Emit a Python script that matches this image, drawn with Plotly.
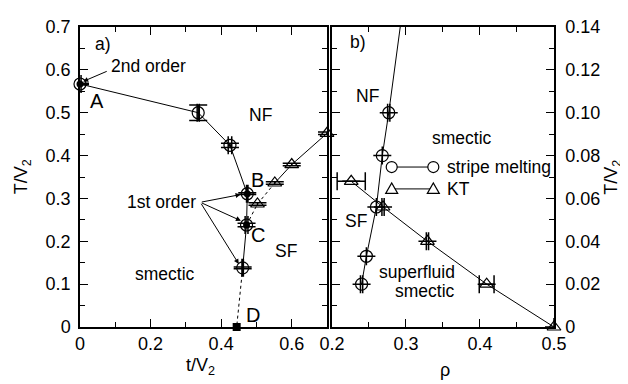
import plotly.graph_objects as go

# ---------------- data ----------------
# panel a) : circles, A..C + lower point
left_circ_x = [0.000, 0.335, 0.425, 0.474, 0.472, 0.461]
left_circ_y = [0.567, 0.500, 0.424, 0.311, 0.238, 0.138]
left_circ_ex = [0.003, 0.003, 0.005, 0.002, 0.004, 0.002]
left_circ_ey = [0.002, 0.018, 0.005, 0.002, 0.004, 0.002]
left_filled_idx = [0, 3, 4]          # A, B, C (filled centre)
point_D_x = [0.444]
point_D_y = [0.0]

# panel a) : triangles
left_tri_x = [0.503, 0.552, 0.600, 0.700]
left_tri_y = [0.287, 0.336, 0.379, 0.452]
left_tri_ey = [0.003, 0.003, 0.003, 0.003]

# panel b) : circles (stripe melting)
right_circ_x = [0.240, 0.2465, 0.260, 0.268, 0.2767, 0.300]
right_circ_y = [0.020, 0.033, 0.056, 0.080, 0.100, 0.160]
right_circ_ex = [0.0015, 0.0, 0.0, 0.0, 0.0015, 0.0]
right_circ_ey = [0.0, 0.0, 0.0, 0.0, 0.0, 0.0]

# panel b) : triangles (KT)
right_tri_x = [0.226, 0.269, 0.329, 0.409, 0.500]
right_tri_y = [0.068, 0.056, 0.040, 0.020, 0.000]
right_tri_ex = [0.019, 0.0015, 0.0015, 0.010, 0.0]
right_tri_ey = [0.0, 0.0, 0.0, 0.0, 0.0]

legend_names = ["stripe melting", "KT"]

# tick labels
left_x_ticks = [0, 0.2, 0.4, 0.6]
left_x_text = ["0", "0.2", "0.4", "0.6"]
left_y_ticks = [0, 0.1, 0.2, 0.3, 0.4, 0.5, 0.6, 0.7]
left_y_text = ["0", "0.1", "0.2", "0.3", "0.4", "0.5", "0.6", "0.7"]
right_x_ticks = [0.2, 0.3, 0.4, 0.5]
right_x_text = ["0.2", "0.3", "0.4", "0.5"]
right_y_ticks = [0, 0.02, 0.04, 0.06, 0.08, 0.10, 0.12, 0.14]
right_y_text = ["0", "0.02", "0.04", "0.06", "0.08", "0.10", "0.12", "0.14"]

FONT = "Liberation Sans, Arial, sans-serif"
BLACK = "black"
TXT = 17.5


def err(arr):
    return dict(type="data", array=arr, visible=True, width=9,
                thickness=1.5, color=BLACK)


fig = go.Figure()

# ---- panel a) ----
fig.add_trace(go.Scatter(
    x=left_circ_x, y=left_circ_y, mode="lines+markers",
    line=dict(color=BLACK, width=1),
    marker=dict(symbol="circle-open", size=12, color=BLACK, line=dict(width=1.2)),
    error_x=err(left_circ_ex), error_y=err(left_circ_ey),
    xaxis="x", yaxis="y", showlegend=False, cliponaxis=False))
fig.add_trace(go.Scatter(
    x=[left_circ_x[i] for i in left_filled_idx],
    y=[left_circ_y[i] for i in left_filled_idx],
    mode="markers", marker=dict(symbol="circle", size=7, color=BLACK),
    xaxis="x", yaxis="y", showlegend=False, cliponaxis=False))
fig.add_trace(go.Scatter(
    x=[left_circ_x[-1]] + point_D_x, y=[left_circ_y[-1]] + point_D_y,
    mode="lines", line=dict(color=BLACK, width=1, dash="dot"),
    xaxis="x", yaxis="y", showlegend=False))
fig.add_trace(go.Scatter(
    x=point_D_x, y=point_D_y, mode="markers",
    marker=dict(symbol="square", size=8, color=BLACK),
    xaxis="x", yaxis="y", showlegend=False, cliponaxis=False))
fig.add_trace(go.Scatter(
    x=[left_circ_x[4]] + left_tri_x[:2], y=[left_circ_y[4]] + left_tri_y[:2],
    mode="lines", line=dict(color=BLACK, width=1, dash="dot"),
    xaxis="x", yaxis="y", showlegend=False))
fig.add_trace(go.Scatter(
    x=left_tri_x[1:], y=left_tri_y[1:], mode="lines",
    line=dict(color=BLACK, width=1),
    xaxis="x", yaxis="y", showlegend=False))
fig.add_trace(go.Scatter(
    x=left_tri_x, y=left_tri_y, mode="markers",
    marker=dict(symbol="triangle-up-open", size=12, color=BLACK, line=dict(width=1.2)),
    error_y=err(left_tri_ey),
    xaxis="x", yaxis="y", showlegend=False, cliponaxis=False))

# ---- panel b) ----
fig.add_trace(go.Scatter(
    x=right_circ_x, y=right_circ_y, mode="lines+markers", name=legend_names[0],
    line=dict(color=BLACK, width=1),
    marker=dict(symbol="circle-open", size=12, color=BLACK, line=dict(width=1.2)),
    error_x=err(right_circ_ex), error_y=err(right_circ_ey),
    xaxis="x2", yaxis="y2", showlegend=False))
fig.add_trace(go.Scatter(
    x=right_tri_x, y=right_tri_y, mode="lines+markers", name=legend_names[1],
    line=dict(color=BLACK, width=1),
    marker=dict(symbol="triangle-up-open", size=12, color=BLACK, line=dict(width=1.2)),
    error_x=err(right_tri_ex), error_y=err(right_tri_ey),
    xaxis="x2", yaxis="y2", showlegend=False, cliponaxis=False))

axis_common = dict(
    showgrid=False, zeroline=False, showline=True, linecolor=BLACK, linewidth=1.5,
    mirror="ticks", ticks="inside", ticklen=8, tickwidth=1, tickcolor=BLACK,
    tickfont=dict(family=FONT, size=18, color=BLACK), tickmode="array",
)

fig.update_layout(
    width=628, height=384,
    margin=dict(l=72, r=82, t=9, b=65),
    paper_bgcolor="white", plot_bgcolor="white",
    font=dict(family=FONT, size=18, color=BLACK),
    showlegend=False,
    xaxis=dict(axis_common, domain=[0, 0.5211], range=[0, 0.7], anchor="y",
               tickvals=left_x_ticks, ticktext=left_x_text,
               minor=dict(tickmode="linear", tick0=0, dtick=0.1, ticks="inside",
                          ticklen=5, tickcolor=BLACK)),
    yaxis=dict(axis_common, domain=[0, 1], range=[0, 0.7], anchor="x",
               tickvals=left_y_ticks, ticktext=left_y_text, ticklabelstandoff=4,
               minor=dict(tickmode="linear", tick0=0, dtick=0.05, ticks="inside",
                          ticklen=5, tickcolor=BLACK)),
    xaxis2=dict(axis_common, domain=[0.5316, 1], range=[0.2, 0.5], anchor="y2",
                tickvals=right_x_ticks, ticktext=right_x_text,
                minor=dict(tickmode="linear", tick0=0.2, dtick=0.05, ticks="inside",
                           ticklen=5, tickcolor=BLACK)),
    yaxis2=dict(axis_common, domain=[0, 1], range=[0, 0.14], anchor="x2", side="right",
                tickvals=right_y_ticks, ticktext=right_y_text, ticklabelstandoff=6,
                minor=dict(tickmode="linear", tick0=0, dtick=0.01, ticks="inside",
                           ticklen=5, tickcolor=BLACK)),
)

ann = []


def txt(text, x, y, xref="x", yref="y", xanchor="center", size=TXT, **kw):
    ann.append(dict(text=text, x=x, y=y, xref=xref, yref=yref, xanchor=xanchor,
                    yanchor="middle", showarrow=False,
                    font=dict(family=FONT, size=size, color=BLACK), **kw))


def arrow(x, y, ax, ay, xref="x", yref="y"):
    ann.append(dict(text="", x=x, y=y, ax=ax, ay=ay, xref=xref, yref=yref,
                    axref=xref, ayref=yref, showarrow=True, arrowhead=2,
                    arrowsize=1, arrowwidth=1, arrowcolor=BLACK, standoff=0))


# panel a) labels
txt("a)", 0.037, 0.661, xanchor="left")
txt("2nd order", 0.083, 0.610, xanchor="left")
arrow(0.009, 0.573, 0.080, 0.598)
txt("A", 0.048, 0.528, size=20)
txt("NF", 0.512, 0.494)
txt("B", 0.504, 0.343, size=20)
txt("C", 0.504, 0.214, size=20)
txt("D", 0.489, 0.027, size=20)
txt("SF", 0.583, 0.178)
txt("smectic", 0.242, 0.124)
txt("1st order", 0.333, 0.291, xanchor="right")
arrow(0.455, 0.309, 0.341, 0.291)
arrow(0.456, 0.248, 0.341, 0.291)
arrow(0.450, 0.147, 0.341, 0.291)

# panel b) labels
txt("b)", 0.2212, 0.1328, xref="x2", yref="y2", xanchor="left")
txt("NF", 0.2483, 0.1079, xref="x2", yref="y2")
txt("smectic", 0.3755, 0.088, xref="x2", yref="y2")
txt("SF", 0.232, 0.0496, xref="x2", yref="y2")
txt("superfluid", 0.3687, 0.0256, xref="x2", yref="y2", xanchor="right")
txt("smectic", 0.3687, 0.0170, xref="x2", yref="y2", xanchor="right")

# key (gnuplot style: sample line with a marker at both ends)
key_x0, key_x1, key_text_x = 0.6576, 0.7454, 0.7700
key_rows = [0.5332, 0.4603]
shapes = []
for name, ky in zip(legend_names, key_rows):
    shapes.append(dict(type="line", xref="paper", yref="paper", x0=key_x0, x1=key_x1,
                       y0=ky, y1=ky, line=dict(color=BLACK, width=1)))
    txt(name, key_text_x, ky, xref="paper", yref="paper", xanchor="left")
for kx in (key_x0, key_x1):
    shapes.append(dict(type="circle", xref="paper", yref="paper",
                       xsizemode="pixel", ysizemode="pixel",
                       xanchor=kx, yanchor=key_rows[0], x0=-5.5, x1=5.5, y0=-5.5, y1=5.5,
                       fillcolor="white", line=dict(color=BLACK, width=1.2)))
    shapes.append(dict(type="path", xref="paper", yref="paper",
                       xsizemode="pixel", ysizemode="pixel",
                       xanchor=kx, yanchor=key_rows[1],
                       path="M -6 -4.5 L 6 -4.5 L 0 6 Z",
                       fillcolor="white", line=dict(color=BLACK, width=1.2)))

# axis titles
txt("T/V<sub>2</sub>", -0.122, 0.5, xref="paper", yref="paper", textangle=-90, size=18)
txt("t/V<sub>2</sub>", 0.2532, -0.133, xref="paper", yref="paper", size=18)
txt("ρ", 0.770, -0.142, xref="paper", yref="paper", size=18)
txt("T/V<sub>2</sub>", 1.122, 0.5, xref="paper", yref="paper", textangle=-90, size=18)

fig.update_layout(annotations=ann, shapes=shapes)

fig.write_html("out.html")
